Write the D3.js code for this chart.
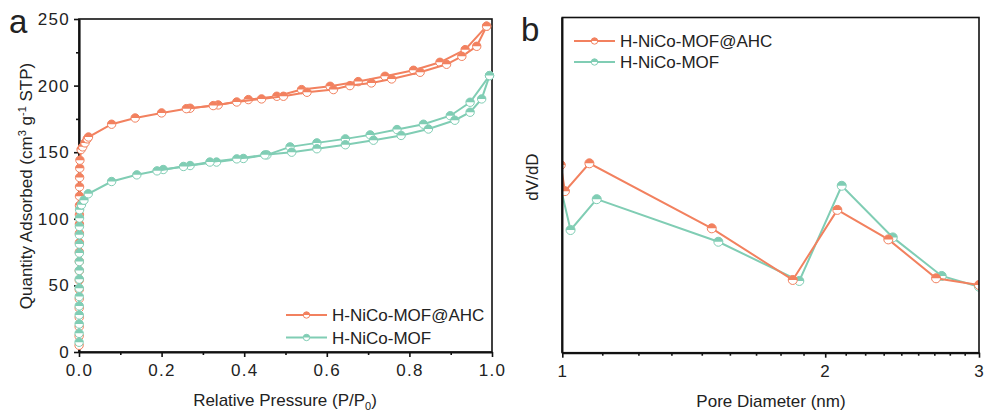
<!DOCTYPE html>
<html>
<head>
<meta charset="utf-8">
<script src="https://cdn.jsdelivr.net/npm/d3@7"></script>
<style>
  body { margin: 0; background: #fff; }
  svg text { font-family: 'Liberation Sans', Arial, sans-serif; fill: #222; }
</style>
</head>
<body>
<svg width="985" height="414"></svg>
<script>
const SVG = d3.select('svg');

const ORANGE = '#f2815f';
const GREEN = '#80cdb4';

const SERIES_NAMES = ['H-NiCo-MOF@AHC', 'H-NiCo-MOF'];

// --- panel a : N2 isotherms (adsorption + desorption branch)
const orangeAdsP = [0.0002, 0.0003, 0.0004, 0.0005, 0.0005, 0.0006, 0.0006, 0.0007, 0.0007, 0.0008, 0.0008,
  0.0009, 0.0009, 0.001, 0.001, 0.0011, 0.0012, 0.0013, 0.0015, 0.0018, 0.0022, 0.005, 0.009, 0.0145, 0.02,
  0.023, 0.079, 0.136, 0.2, 0.26, 0.325, 0.382, 0.442, 0.495, 0.552, 0.616, 0.656, 0.708, 0.757, 0.826,
  0.89, 0.927, 0.963, 0.987];
const orangeAdsQ = [5, 12, 19, 26, 33, 40, 47, 54, 61, 68, 75, 82, 89, 96, 103, 110, 117, 124, 131, 138, 144,
  152, 154, 157, 160, 161.4, 171, 175.7, 179.5, 182.7, 185, 187.7, 190, 192, 195, 197, 200, 202, 205, 210,
  216, 222, 229.5, 244.6];
const orangeDesP = [0.987, 0.935, 0.874, 0.81, 0.741, 0.676, 0.608, 0.539, 0.479, 0.41, 0.337, 0.269];
const orangeDesQ = [244.6, 227, 217.5, 211.5, 207, 203, 199.5, 197, 192, 189.5, 185.5, 183];

const greenAdsP = [0.0002, 0.0003, 0.0004, 0.0005, 0.0005, 0.0006, 0.0006, 0.0007, 0.0007, 0.0008, 0.0008,
  0.0009, 0.0009, 0.001, 0.0012, 0.0015, 0.006, 0.012, 0.0225, 0.079, 0.14, 0.189, 0.253, 0.317, 0.382,
  0.45, 0.515, 0.576, 0.645, 0.713, 0.78, 0.846, 0.91, 0.947, 0.975, 0.994];
const greenAdsQ = [7.3, 14, 21, 27.8, 34.6, 41.6, 47.9, 54.7, 61.2, 67.9, 74.3, 81, 88, 94.2, 100.5, 106.8,
  110.5, 114, 118.8, 128, 133, 136, 139.3, 142.6, 145, 148, 150, 152.6, 155.6, 159, 162.6, 167.4, 174, 180,
  190, 207.5];
const greenDesP = [0.994, 0.947, 0.899, 0.834, 0.77, 0.705, 0.645, 0.576, 0.511, 0.455, 0.398, 0.333, 0.269, 0.204];
const greenDesQ = [207.5, 187.5, 177.4, 171, 167, 163, 160, 157, 154, 148, 145.3, 142.6, 140, 137];

const aXTicks = [0, 0.2, 0.4, 0.6, 0.8, 1.0];
const aYTicks = [0, 50, 100, 150, 200, 250];

// --- panel b : pore size distribution
const orangePoreD = [0.996, 1.007, 1.074, 1.483, 1.836, 2.065, 2.362, 2.679, 3.0];
const orangePoreV = [0.56, 0.482, 0.565, 0.371, 0.217, 0.426, 0.338, 0.222, 0.202];
const greenPoreD = [0.996, 1.022, 1.095, 1.509, 1.868, 2.089, 2.39, 2.719, 3.0];
const greenPoreV = [0.491, 0.366, 0.458, 0.331, 0.214, 0.498, 0.344, 0.229, 0.197];

const bXTicks = [1, 2, 3];

// ---------------------------------------------------------------
function halfUp(g, x, y, r, color) {
  g.append('circle').attr('cx', x).attr('cy', y).attr('r', r)
    .attr('fill', '#fff').attr('stroke', color).attr('stroke-width', 1);
  g.append('path')
    .attr('d', `M${x - r},${y} A${r},${r} 0 0 1 ${x + r},${y} Z`)
    .attr('fill', color);
}

function styleAxis(g, w) {
  g.select('.domain').attr('stroke', '#111').attr('stroke-width', w);
  g.selectAll('.tick line').attr('stroke', '#111').attr('stroke-width', 1.6);
  g.selectAll('.tick text').style('font-size', '17px').style('letter-spacing', '1.3px').attr('fill', '#222');
}

function drawSeries(g, xs, ys, px, py, color, r) {
  const line = d3.line().x((d, i) => px(xs[i])).y((d, i) => py(ys[i]));
  g.append('path').datum(xs).attr('d', line)
    .attr('fill', 'none').attr('stroke', color).attr('stroke-width', 2);
  const mg = g.append('g');
  xs.forEach((v, i) => halfUp(mg, px(v), py(ys[i]), r, color));
}

function legend(g, x0, y0, dy, colors) {
  SERIES_NAMES.forEach((name, i) => {
    const y = y0 + i * dy;
    g.append('line').attr('x1', x0).attr('x2', x0 + 41).attr('y1', y).attr('y2', y)
      .attr('stroke', colors[i]).attr('stroke-width', 2);
    halfUp(g, x0 + 20.5, y, 3.2, colors[i]);
    g.append('text').attr('x', x0 + 46).attr('y', y + 6)
      .style('font-size', '17px').text(name);
  });
}

// ================= panel a =================
const A = { left: 79, right: 492, top: 19, bottom: 352 };
const ax = d3.scaleLinear().domain([0, 1]).range([A.left, A.right]);
const ay = d3.scaleLinear().domain([0, 250]).range([A.bottom, A.top]);

const ga = SVG.append('g');
ga.append('rect').attr('x', A.left).attr('y', A.top)
  .attr('width', A.right - A.left).attr('height', A.bottom - A.top)
  .attr('fill', 'none').attr('stroke', '#111').attr('stroke-width', 1.6);

const aMinorX = ga.append('g').attr('transform', `translate(0,${A.bottom})`)
  .call(d3.axisBottom(ax).tickValues([0.1, 0.3, 0.5, 0.7, 0.9]).tickFormat('').tickSize(3).tickSizeOuter(0));
styleAxis(aMinorX, 0);
const aXG = ga.append('g').attr('transform', `translate(0,${A.bottom})`)
  .call(d3.axisBottom(ax).tickValues(aXTicks).tickFormat(d3.format('.1f')).tickSize(5).tickPadding(7).tickSizeOuter(0));
styleAxis(aXG, 2.2);

const aMinorY = ga.append('g').attr('transform', `translate(${A.left},0)`)
  .call(d3.axisLeft(ay).tickValues([25, 75, 125, 175, 225]).tickFormat('').tickSize(3).tickSizeOuter(0));
styleAxis(aMinorY, 0);
const aYG = ga.append('g').attr('transform', `translate(${A.left},0)`)
  .call(d3.axisLeft(ay).tickValues(aYTicks).tickFormat(d3.format('d')).tickSize(5).tickPadding(4).tickSizeOuter(0));
styleAxis(aYG, 2.2);

drawSeries(ga, orangeDesP, orangeDesQ, ax, ay, ORANGE, 4.2);
drawSeries(ga, orangeAdsP, orangeAdsQ, ax, ay, ORANGE, 4.2);
drawSeries(ga, greenDesP, greenDesQ, ax, ay, GREEN, 4.2);
drawSeries(ga, greenAdsP, greenAdsQ, ax, ay, GREEN, 4.2);

legend(ga, 286, 315, 22.5, [ORANGE, GREEN]);

ga.append('text').attr('x', 9).attr('y', 33).style('font-size', '33px').text('a');

const aYLab = ga.append('text').attr('transform', 'translate(32,186) rotate(-90)')
  .attr('text-anchor', 'middle').style('font-size', '17px');
aYLab.append('tspan').text('Quantity Adsorbed (cm');
aYLab.append('tspan').attr('dy', -6).style('font-size', '11px').text('3');
aYLab.append('tspan').attr('dy', 6).text(' g');
aYLab.append('tspan').attr('dy', -6).style('font-size', '11px').text('-1');
aYLab.append('tspan').attr('dy', 6).text(' STP)');

const aXLab = ga.append('text').attr('x', 285).attr('y', 406)
  .attr('text-anchor', 'middle').style('font-size', '17px');
aXLab.append('tspan').text('Relative Pressure (P/P');
aXLab.append('tspan').attr('dy', 4).style('font-size', '11px').text('0');
aXLab.append('tspan').attr('dy', -4).text(')');

// ================= panel b =================
const B = { left: 562.3, right: 979, top: 17.5, bottom: 352.7 };
const bx = d3.scaleLog().domain([1, 3]).range([B.left, B.right]);
const by = d3.scaleLinear().domain([0, 1]).range([B.bottom, B.top]);

const gb = SVG.append('g');
SVG.append('clipPath').attr('id', 'clipB').append('rect')
  .attr('x', B.left).attr('y', B.top).attr('width', B.right - B.left).attr('height', B.bottom - B.top);

const bData = gb.append('g').attr('clip-path', 'url(#clipB)');
drawSeries(bData, greenPoreD, greenPoreV, bx, by, GREEN, 4.5);
drawSeries(bData, orangePoreD, orangePoreV, bx, by, ORANGE, 4.5);

gb.append('rect').attr('x', B.left).attr('y', B.top)
  .attr('width', B.right - B.left).attr('height', B.bottom - B.top)
  .attr('fill', 'none').attr('stroke', '#111').attr('stroke-width', 1.6);

const bMinor = d3.range(1, 9).map(k => 1 + k / 9).concat(d3.range(1, 9).map(k => 2 + k / 9));
const bMinorX = gb.append('g').attr('transform', `translate(0,${B.bottom})`)
  .call(d3.axisBottom(bx).tickValues(bMinor).tickFormat('').tickSize(3).tickSizeOuter(0));
styleAxis(bMinorX, 0);
const bXG = gb.append('g').attr('transform', `translate(0,${B.bottom})`)
  .call(d3.axisBottom(bx).tickValues(bXTicks).tickFormat(d3.format('d')).tickSize(5).tickPadding(7).tickSizeOuter(0));
styleAxis(bXG, 2.2);
gb.append('line').attr('x1', B.left).attr('x2', B.left).attr('y1', B.top).attr('y2', B.bottom)
  .attr('stroke', '#111').attr('stroke-width', 2.2);

legend(gb, 574, 41, 21, [ORANGE, GREEN]);

gb.append('text').attr('x', 521).attr('y', 41).style('font-size', '33px').text('b');

gb.append('text').attr('transform', 'translate(538,177) rotate(-90)')
  .attr('text-anchor', 'middle').style('font-size', '17px').text('dV/dD');
gb.append('text').attr('x', 771).attr('y', 407)
  .attr('text-anchor', 'middle').style('font-size', '17px').text('Pore Diameter (nm)');
</script>
</body>
</html>
